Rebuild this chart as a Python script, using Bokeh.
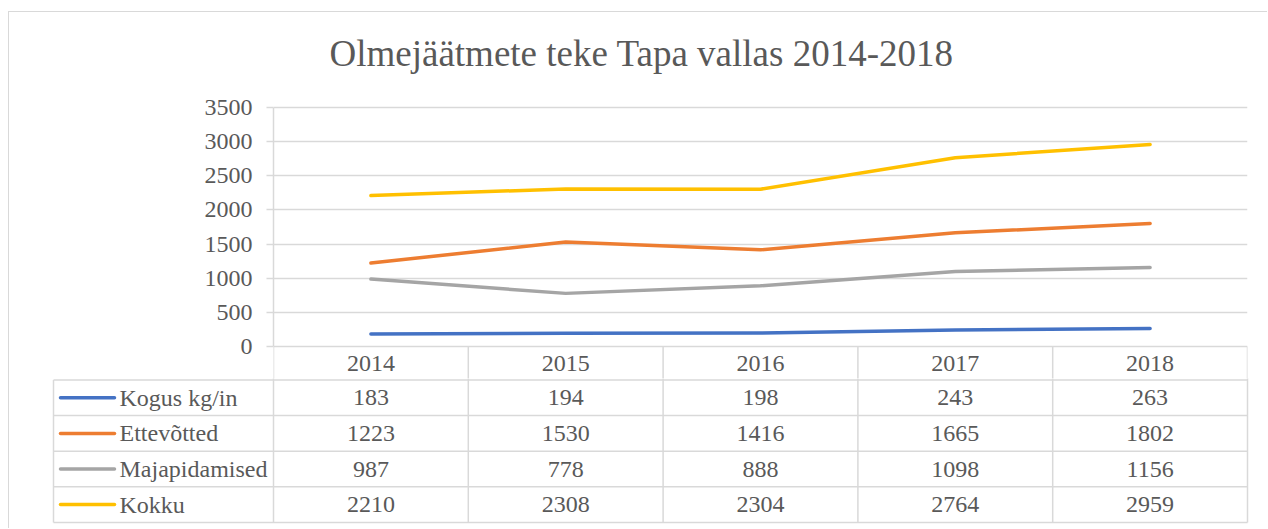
import numpy as np
from bokeh.plotting import figure
from bokeh.layouts import column
from bokeh.models import Range1d, FixedTicker
from bokeh.core.properties import value
from bokeh.embed import file_html
from bokeh.resources import INLINE

# ---------------- data ----------------
title_text = "Olmejäätmete teke Tapa vallas 2014-2018"
years = ["2014", "2015", "2016", "2017", "2018"]
series_names = ["Kogus kg/in", "Ettevõtted", "Majapidamised", "Kokku"]
kogus = [183, 194, 198, 243, 263]
ettevotted = [1223, 1530, 1416, 1665, 1802]
majapidamised = [987, 778, 888, 1098, 1156]
kokku = [2210, 2308, 2304, 2764, 2959]
series_values = [kogus, ettevotted, majapidamised, kokku]
series_colors = ["#4472C4", "#ED7D31", "#A5A5A5", "#FFC000"]
y_ticks = [0, 500, 1000, 1500, 2000, 2500, 3000, 3500]

# ---------------- style / layout ----------------
FONT = "Liberation Serif"
TXT = "#595959"
GRID = "#D9D9D9"
OX, OY = 10, 13                 # content origin on the page
W = 1268 - OX
frame_l, frame_r = 274, 1248    # plot area (page px)
y0_px, ytop_px = 347, 108       # value 0 and value 3500 (page px)
frameA_top = 92
figA_bottom = 379
header_c = 364.0
n = len(years)
col_px = (frame_r - frame_l) / n
ppu = (y0_px - ytop_px) / y_ticks[-1]
y_start = -(figA_bottom - y0_px) / ppu

# ---------------- chart (with the table's header row) ----------------
p = figure(width=W, height=figA_bottom - OY,
           x_range=Range1d(0, n),
           y_range=Range1d(y_start, y_ticks[-1] + (ytop_px - frameA_top) / ppu),
           min_border_left=frame_l - OX, min_border_right=W - (frame_r - OX),
           min_border_top=frameA_top - OY, min_border_bottom=0,
           x_axis_location=None,
           toolbar_location=None, output_backend="svg")
p.outline_line_color = None
p.background_fill_color = "white"
p.border_fill_color = "white"

p.title.text = title_text
p.title.text_font = FONT
p.title.text_font_size = "37px"
p.title.text_font_style = "normal"
p.title.text_color = TXT
p.title.align = "left"
p.title.offset = 56
p.title.standoff = 35

# column borders of the header row
vx = list(range(n + 1))
p.segment(x0=vx, y0=[0] * len(vx), x1=vx, y1=[y_start * 1.2] * len(vx),
          line_color=GRID, line_width=1.5)

centers = list(np.arange(n) + 0.5)
# category labels (header row of the data table)
p.text(x=centers, y=[-(header_c - y0_px) / ppu] * n, text=years,
       text_font=value(FONT), text_font_size=value("24px"), text_color=TXT,
       text_align="center", text_baseline="middle")

for vals, col in zip(series_values, series_colors):
    p.line(centers, vals, line_color=col, line_width=3.5, line_cap="round", line_join="round")

# y axis
p.yaxis.ticker = FixedTicker(ticks=y_ticks)
p.yaxis.bounds = (0, y_ticks[-1])
p.yaxis.axis_line_color = GRID
p.yaxis.axis_line_width = 1.5
p.yaxis.major_tick_line_color = GRID
p.yaxis.major_tick_line_width = 1.5
p.yaxis.major_tick_out = 7
p.yaxis.major_tick_in = 0
p.yaxis.minor_tick_line_color = None
p.yaxis.major_label_standoff = 14
p.yaxis.major_label_text_font = FONT
p.yaxis.major_label_text_font_size = "24px"
p.yaxis.major_label_text_color = TXT

p.xgrid.grid_line_color = None
p.ygrid.ticker = FixedTicker(ticks=y_ticks)
p.ygrid.grid_line_color = GRID
p.ygrid.grid_line_width = 1.5

# ---------------- data table ----------------
tbl_left = 54
row_top = 380.5
row_h = 35.6
nrows = len(series_names)
row_bot = row_top + nrows * row_h
lw = (frame_l - tbl_left) / col_px
padL, padR = 3, 3
hB = 529 - figA_bottom
y_top_val = -(row_top - figA_bottom) / row_h
t = figure(width=W, height=hB,
           x_range=Range1d(-lw - padL / col_px, n + padR / col_px),
           y_range=Range1d(nrows + (529 - row_bot) / row_h, y_top_val),
           min_border_left=tbl_left - OX - padL, min_border_right=W - (frame_r - OX) - padR,
           min_border_top=0, min_border_bottom=0,
           x_axis_location=None, y_axis_location=None,
           toolbar_location=None, output_backend="svg")
t.outline_line_color = None
t.xgrid.visible = False
t.ygrid.visible = False
t.border_fill_color = "white"
for fig in (p, t):
    try:
        fig.frame_align = False
    except Exception:
        pass

# horizontal rules
hy = list(range(nrows + 1))
t.segment(x0=[-lw] * len(hy), y0=hy, x1=[n] * len(hy), y1=hy, line_color=GRID, line_width=1.5)
# vertical rules
t.segment(x0=vx, y0=[y_top_val - 0.1] * len(vx), x1=vx, y1=[nrows] * len(vx),
          line_color=GRID, line_width=1.5)
t.segment(x0=[-lw], y0=[0], x1=[-lw], y1=[nrows], line_color=GRID, line_width=1.5)

row_c = list(np.arange(nrows) + 0.5)
# legend keys
t.segment(x0=[-lw + 7 / col_px] * nrows, y0=row_c, x1=[-lw + 61 / col_px] * nrows, y1=row_c,
          line_color=series_colors, line_width=3.5, line_cap="round")
t.text(x=[-lw + 66 / col_px] * nrows, y=row_c, text=series_names,
       text_font=value(FONT), text_font_size=value("24px"), text_color=TXT,
       text_align="left", text_baseline="middle")
# values
xs, ys, labels = [], [], []
for r, vals in enumerate(series_values):
    for i, v in enumerate(vals):
        xs.append(i + 0.5)
        ys.append(r + 0.5)
        labels.append(str(v))
t.text(x=xs, y=ys, text=labels, text_font=value(FONT), text_font_size=value("24px"),
       text_color=TXT, text_align="center", text_baseline="middle")

root = column(p, t, styles={"margin-left": "8px", "margin-top": "11px",
                            "border-left": "1.5px solid #D9D9D9",
                            "border-top": "1.5px solid #D9D9D9"})

open("out.html", "w").write(file_html(root, INLINE))
